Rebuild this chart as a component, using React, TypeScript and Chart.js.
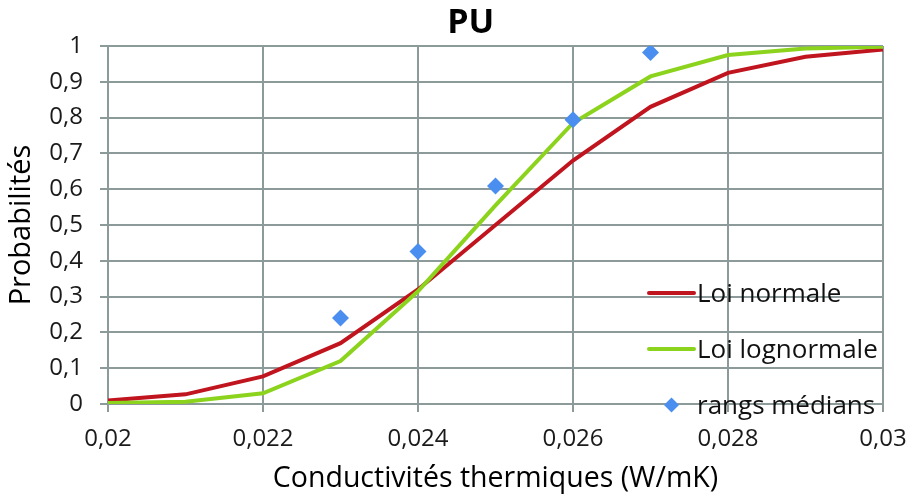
import React, { useEffect, useRef } from "react";
import { Chart, registerables } from "chart.js";

Chart.register(...registerables);

const xValues = [0.02, 0.021, 0.022, 0.023, 0.024, 0.025, 0.026, 0.027, 0.028, 0.029, 0.03];
const loiNormale = [0.01, 0.027, 0.077, 0.17, 0.32, 0.5, 0.68, 0.83, 0.925, 0.97, 0.99];
const loiLognormale = [0.003, 0.006, 0.03, 0.12, 0.315, 0.555, 0.785, 0.915, 0.975, 0.993, 0.998];
const rangsX = [0.023, 0.024, 0.025, 0.026, 0.027];
const rangsY = [0.24, 0.426, 0.609, 0.794, 0.982];

const seriesNames = ["Loi normale", "Loi lognormale", "rangs médians"];
const chartTitle = "PU";
const xTitle = "Conductivités thermiques (W/mK)";
const yTitle = "Probabilités";

const RED = "#C0141E";
const GREEN = "#8CD31E";
const BLUE = "#4A8FEF";
const GRID = "#8C9A9A";
const FONT = "'Open Sans', sans-serif";

const fmt = (v: number, d: number) => String(Number(v.toFixed(d))).replace(".", ",");

const overlayPlugin = {
  id: "overlay",
  afterDraw(chart: any) {
    const { ctx, chartArea } = chart;
    ctx.save();
    // title
    ctx.fillStyle = "#000";
    ctx.font = `bold 34px ${FONT}`;
    ctx.textAlign = "center";
    ctx.textBaseline = "middle";
    ctx.fillText(chartTitle, chartArea.left + (chartArea.right - chartArea.left) * 0.468, 23);
    // legend
    const lx0 = chartArea.right - 234;
    const lx1 = chartArea.right - 189;
    const tx = chartArea.right - 186;
    const ys = [chartArea.bottom - 111, chartArea.bottom - 55, chartArea.bottom + 1];
    ctx.font = `26px ${FONT}`;
    ctx.textAlign = "left";
    ctx.textBaseline = "middle";
    ctx.lineCap = "round";
    [RED, GREEN].forEach((c, i) => {
      ctx.strokeStyle = c;
      ctx.lineWidth = 4;
      ctx.beginPath();
      ctx.moveTo(lx0, ys[i]);
      ctx.lineTo(lx1, ys[i]);
      ctx.stroke();
    });
    const cx = (lx0 + lx1) / 2;
    const cy = ys[2];
    const r = 7.5;
    ctx.fillStyle = BLUE;
    ctx.beginPath();
    ctx.moveTo(cx, cy - r);
    ctx.lineTo(cx + r, cy);
    ctx.lineTo(cx, cy + r);
    ctx.lineTo(cx - r, cy);
    ctx.closePath();
    ctx.fill();
    ctx.fillStyle = "#111";
    seriesNames.forEach((n, i) => ctx.fillText(n, tx, ys[i] + 2));
    ctx.restore();
  },
};

export default function App() {
  const ref = useRef<HTMLCanvasElement>(null);
  useEffect(() => {
    if (!ref.current) return;
    const chart = new Chart(ref.current, {
      type: "scatter",
      data: {
        datasets: [
          {
            label: seriesNames[2],
            data: rangsX.map((x, i) => ({ x, y: rangsY[i] })),
            pointStyle: "rectRot",
            pointRadius: 8.5,
            pointBackgroundColor: BLUE,
            pointBorderColor: BLUE,
            pointBorderWidth: 0,
            showLine: false,
            order: 0,
          },
          {
            label: seriesNames[1],
            data: xValues.map((x, i) => ({ x, y: loiLognormale[i] })),
            borderColor: GREEN,
            borderWidth: 4,
            pointRadius: 0,
            showLine: true,
            order: 1,
          },
          {
            label: seriesNames[0],
            data: xValues.map((x, i) => ({ x, y: loiNormale[i] })),
            borderColor: RED,
            borderWidth: 4,
            pointRadius: 0,
            showLine: true,
            order: 2,
          },
        ],
      },
      options: {
        animation: false,
        responsive: false,
        layout: { padding: { top: 46, right: 26, left: 0, bottom: 0 } },
        plugins: { legend: { display: false }, title: { display: false }, tooltip: { enabled: false } },
        scales: {
          x: {
            type: "linear",
            min: 0.02,
            max: 0.03,
            afterFit: (s: any) => {
              s.height = 96;
              s.paddingLeft = 0;
              s.paddingRight = 0;
            },
            ticks: {
              stepSize: 0.002,
              padding: 13,
              color: "#1a1a1a",
              font: { family: FONT, size: 24 },
              callback: (v: any) => fmt(Number(v), 3),
            },
            grid: { color: GRID, lineWidth: 2, tickLength: 8, tickColor: GRID },
            border: { color: GRID, width: 2 },
            title: {
              display: true,
              text: xTitle,
              color: "#000",
              font: { family: FONT, size: 28.5 },
              padding: { top: 0, bottom: 4 },
            },
          },
          y: {
            min: 0,
            max: 1,
            afterFit: (s: any) => {
              s.width = 108;
              s.paddingTop = 0;
              s.paddingBottom = 0;
            },
            ticks: {
              stepSize: 0.1,
              padding: 17,
              color: "#1a1a1a",
              font: { family: FONT, size: 24 },
              callback: (v: any) => fmt(Number(v), 1),
            },
            grid: { color: GRID, lineWidth: 2, tickLength: 8, tickColor: GRID },
            border: { color: GRID, width: 2 },
            title: {
              display: true,
              text: yTitle,
              color: "#000",
              font: { family: FONT, size: 29 },
              padding: { top: 4, bottom: 0 },
            },
          },
        },
      },
      plugins: [overlayPlugin],
    });
    return () => chart.destroy();
  }, []);
  return (
    <div style={{ position: "absolute", left: 0, top: 0, width: 909, height: 500, background: "#fff" }}>
      <canvas ref={ref} width={909} height={500} />
    </div>
  );
}
